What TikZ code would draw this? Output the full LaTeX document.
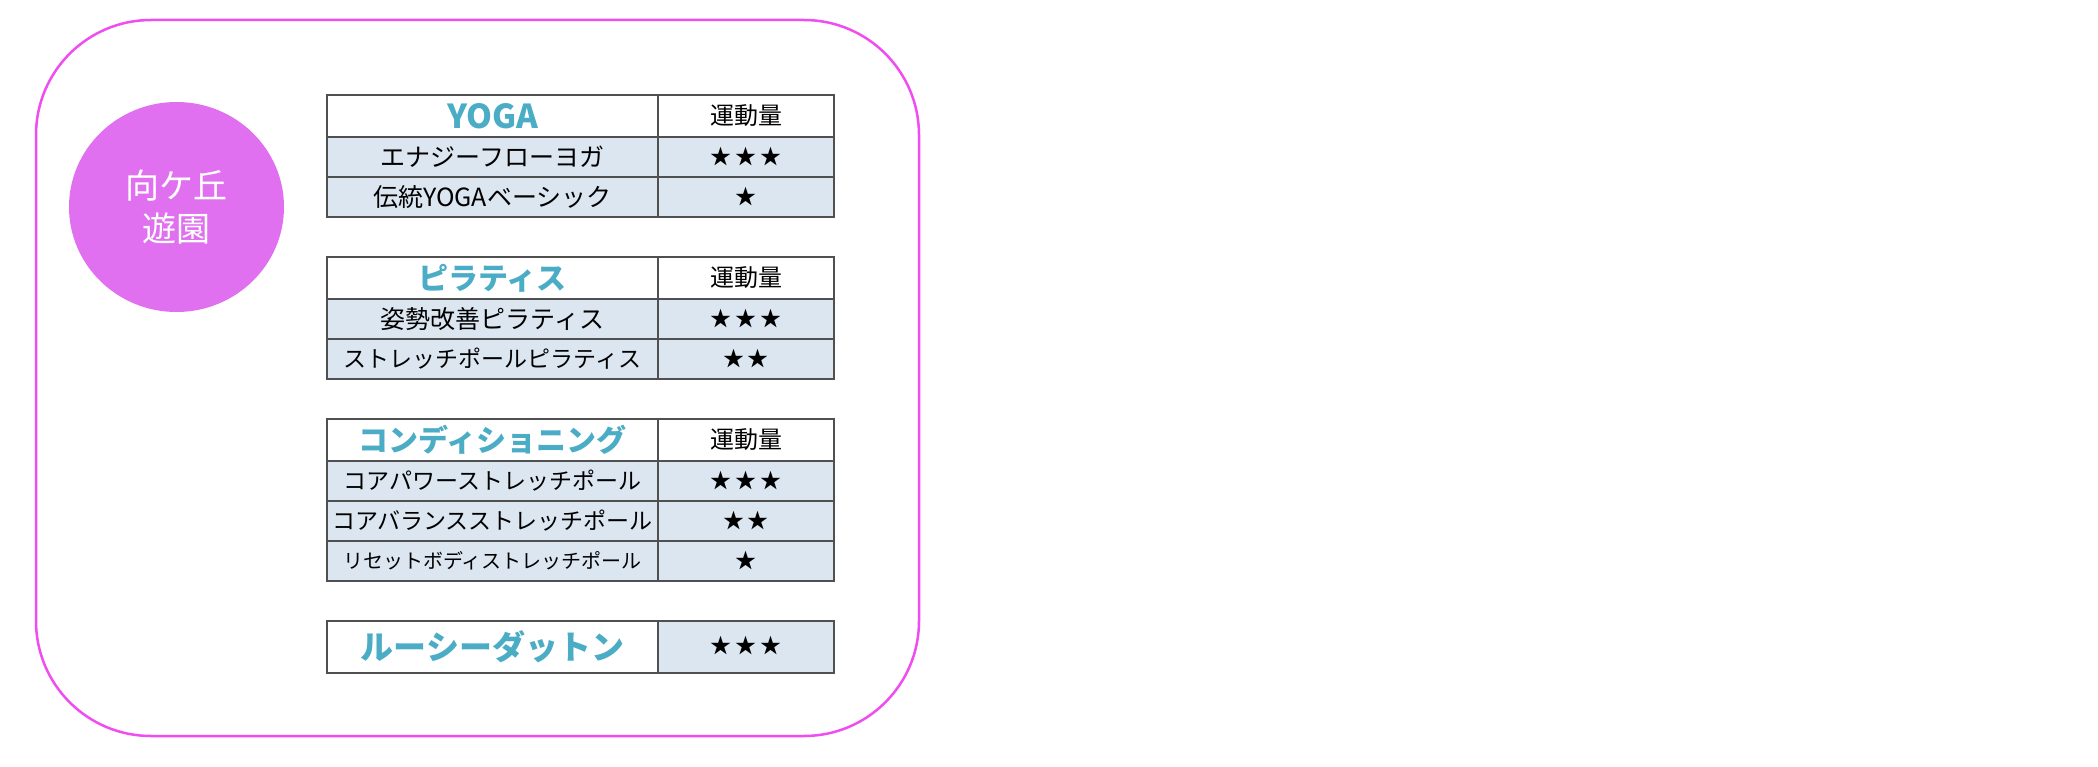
\documentclass[tikz,border=0pt]{standalone}
\usepackage{fontspec}
\setmainfont{Noto Sans CJK JP}
\usepackage{tikz}
\usetikzlibrary{positioning}
\usetikzlibrary{shapes.geometric}

\definecolor{rimpink}{RGB}{240,76,240}
\definecolor{ballpink}{RGB}{224,112,240}
\definecolor{rowblue}{RGB}{220,230,241}
\definecolor{headteal}{RGB}{75,172,198}
\definecolor{gridgray}{RGB}{80,80,80}
\newcommand{\fsz}[1]{\fontsize{#1pt}{#1pt}\selectfont}
\newcommand{\stargap}{\hspace{4pt}}

\begin{document}
\begin{tikzpicture}[x=1pt, y=-1pt,
  cell/.style={draw=gridgray, line width=1.4pt, inner sep=0pt, outer sep=0pt, minimum height=40pt, font=\fsz{25}},
  namecell/.style={cell, minimum width=331pt},
  ratecell/.style={cell, minimum width=176pt},
  bluecell/.style={fill=rowblue},
  headcell/.style={namecell, minimum height=42pt, text=headteal, font=\bfseries\fsz{30}},
  qtycell/.style={ratecell, minimum height=42pt, font=\fsz{24}},
  starcell/.style={ratecell, bluecell, font=\fsz{21}}]
 \useasboundingbox (0,0) rectangle (2098,767);

 \draw[rimpink, line width=2.5pt, rounded corners=115pt] (36,20) rectangle (919,736);
 \node[ellipse, fill=ballpink, minimum width=215pt, minimum height=210pt, text=white,
   align=center, font=\fontsize{34pt}{43pt}\selectfont] (park) at (176.5,207) {向ケ丘\\遊園};

 % YOGA
 \node[headcell, anchor=north west, font=\bfseries\fsz{33}] (yoga) at (327,95) {YOGA};
 \node[qtycell, right=0pt of yoga] (yogaq) {\raisebox{-6pt}{運動量}};
 \node[namecell, bluecell, below=0pt of yoga] (yoga1) {エナジーフローヨガ};
 \node[starcell, right=0pt of yoga1] (yoga1s) {★\stargap★\stargap★};
 \node[namecell, bluecell, below=0pt of yoga1] (yoga2) {伝統YOGAベーシック};
 \node[starcell, right=0pt of yoga2] (yoga2s) {★};

 % pilates
 \node[headcell, anchor=north west] (pila) at (327,257) {ピラティス};
 \node[qtycell, right=0pt of pila] (pilaq) {\raisebox{-6pt}{運動量}};
 \node[namecell, bluecell, below=0pt of pila] (pila1) {姿勢改善ピラティス};
 \node[starcell, right=0pt of pila1] (pila1s) {★\stargap★\stargap★};
 \node[namecell, bluecell, below=0pt of pila1, font=\fsz{23}] (pila2) {ストレッチポールピラティス};
 \node[starcell, right=0pt of pila2] (pila2s) {★\stargap★};

 % conditioning
 \node[headcell, anchor=north west] (cond) at (327,419) {コンディショニング};
 \node[qtycell, right=0pt of cond] (condq) {\raisebox{-6pt}{運動量}};
 \node[namecell, bluecell, below=0pt of cond, font=\fsz{23}] (cond1) {コアパワーストレッチポール};
 \node[starcell, right=0pt of cond1] (cond1s) {★\stargap★\stargap★};
 \node[namecell, bluecell, below=0pt of cond1, font=\fsz{23}] (cond2) {コアバランスストレッチポール};
 \node[starcell, right=0pt of cond2] (cond2s) {★\stargap★};
 \node[namecell, bluecell, below=0pt of cond2, font=\fsz{20}] (cond3) {リセットボディストレッチポール};
 \node[starcell, right=0pt of cond3] (cond3s) {★};

 % rusie dutton
 \node[headcell, anchor=north west, minimum height=52pt, font=\bfseries\fsz{33}] (rusi) at (327,621) {ルーシーダットン};
 \node[starcell, minimum height=52pt, right=0pt of rusi] (rusis) {\raisebox{5pt}{★\stargap★\stargap★}};
\end{tikzpicture}
\end{document}
